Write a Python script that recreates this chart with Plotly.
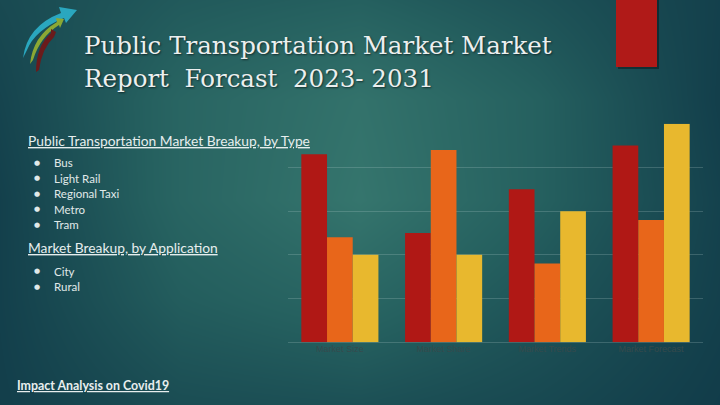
import plotly.graph_objects as go

# ---------------- data ----------------
categories = ["Market Size", "Market Share", "Market Trends", "Market Forecast"]
series_names = ["Series 1", "Series 2", "Series 3"]
series_1 = [4.3, 2.5, 3.5, 4.5]
series_2 = [2.4, 4.4, 1.8, 2.8]
series_3 = [2.0, 2.0, 3.0, 5.0]
series_colors = ["#B01815", "#E8661A", "#E8B82E"]

title_lines = ["Public Transportation Market Market", "Report  Forcast  2023- 2031"]
type_header = "Public Transportation Market Breakup, by Type"
type_items = ["Bus", "Light Rail", "Regional Taxi", "Metro", "Tram"]
app_header = "Market Breakup, by Application"
app_items = ["City", "Rural"]
footer_text = "Impact Analysis on Covid19"

# background gradient (decorative), brightness at grid points
bg_x = [0, 180, 360, 540, 720]
bg_y = [0, 100, 200, 300, 405]
bg_z = [
    [0.22, 0.42, 0.50, 0.32, 0.10],
    [0.15, 0.58, 0.80, 0.50, 0.08],
    [0.10, 0.58, 0.85, 0.50, 0.12],
    [0.10, 0.46, 0.60, 0.35, 0.10],
    [0.08, 0.26, 0.30, 0.20, 0.05],
]

W, H = 720, 405

fig = go.Figure()

# background heatmap on full-page pixel axes
fig.add_trace(go.Heatmap(
    x=bg_x, y=bg_y, z=bg_z, zsmooth="best", showscale=False, hoverinfo="skip",
    colorscale=[[0, "#0f3847"], [0.5, "#25605f"], [1, "#3c7e73"]], zmin=0, zmax=1,
    xaxis="x", yaxis="y",
))

for name, vals, col in zip(series_names, [series_1, series_2, series_3], series_colors):
    fig.add_trace(go.Bar(
        x=categories, y=vals, name=name, marker=dict(color=col, line=dict(width=0)),
        xaxis="x2", yaxis="y2", showlegend=False,
    ))

grid_col = "rgba(190,215,215,0.22)"
fig.update_layout(
    width=W, height=H,
    margin=dict(l=0, r=0, t=0, b=0),
    paper_bgcolor="#1d5058",
    plot_bgcolor="rgba(0,0,0,0)",
    barmode="group", bargap=0.257, bargroupgap=0,
    xaxis=dict(domain=[0, 1], range=[0, W], visible=False, fixedrange=True),
    yaxis=dict(domain=[0, 1], range=[H, 0], visible=False, fixedrange=True),
    xaxis2=dict(domain=[288 / W, 703 / W], anchor="y2", showgrid=False,
                tickfont=dict(family="Liberation Sans", size=9, color="#364a4c"),
                ticks="", showline=False),
    yaxis2=dict(domain=[1 - 342.3 / H, 1 - 123.7 / H], anchor="x2", range=[0, 5],
                dtick=1, showticklabels=False, showgrid=True, gridcolor=grid_col,
                gridwidth=1, zeroline=True, zerolinecolor=grid_col, zerolinewidth=1),
    showlegend=False,
)

shapes = []
# decorative red block top right (with shadow)
shapes.append(dict(type="rect", xref="x", yref="y", x0=618, x1=659, y0=-2, y1=69,
                   fillcolor="rgba(0,0,0,0.35)", line=dict(width=0)))
shapes.append(dict(type="rect", xref="x", yref="y", x0=616, x1=657, y0=-2, y1=67,
                   fillcolor="#B01A18", line=dict(width=0)))
# logo swooshes
shapes.append(dict(type="path", xref="x", yref="y",
                   path="M 23,58 Q 27,26 61,13 L 59,7 L 77,10 L 66,23 L 64,18 Q 35,30 27,50 Z",
                   fillcolor="#2AA7BF", line=dict(width=0)))
shapes.append(dict(type="path", xref="x", yref="y",
                   path="M 30,64 Q 33,36 57,22 L 56,18 L 64,19 L 60,28 L 59,25 Q 40,37 33,60 Z",
                   fillcolor="#8BA834", line=dict(width=0)))
shapes.append(dict(type="path", xref="x", yref="y",
                   path="M 36,72 Q 36,46 51,33 L 51,29 L 56,32 L 54,37 Q 42,48 39,70 Z",
                   fillcolor="#6A1B1B", line=dict(width=0)))
fig.update_layout(shapes=shapes)

ann = []
title_font = dict(family="DejaVu Serif", size=24.5, color="#EBEFEF",
                  shadow="1px 1px 2px rgba(0,0,0,0.55)")
for i, line in enumerate(title_lines):
    ann.append(dict(x=82, y=45 + 33 * i, xref="x", yref="y", text=line, showarrow=False,
                    xanchor="left", yanchor="middle", font=title_font))

hdr_font = dict(family="Lato", size=13.8, color="#E6EEEE")
item_font = dict(family="Lato", size=11.5, color="#E0E9E9")
bullet_font = dict(family="DejaVu Sans", size=7, color="#E0E9E9")

ann.append(dict(x=26, y=140, xref="x", yref="y", text="<u>" + type_header + "</u>",
                showarrow=False, xanchor="left", yanchor="middle", font=hdr_font))
for i, it in enumerate(type_items):
    yy = 162.7 + 15.5 * i
    ann.append(dict(x=37, y=yy, xref="x", yref="y", text="●", showarrow=False,
                    xanchor="center", yanchor="middle", font=bullet_font))
    ann.append(dict(x=52, y=yy, xref="x", yref="y", text=it, showarrow=False,
                    xanchor="left", yanchor="middle", font=item_font))
ann.append(dict(x=26, y=247.5, xref="x", yref="y", text="<u>" + app_header + "</u>",
                showarrow=False, xanchor="left", yanchor="middle", font=hdr_font))
for i, it in enumerate(app_items):
    yy = 271 + 15.5 * i
    ann.append(dict(x=37, y=yy, xref="x", yref="y", text="●", showarrow=False,
                    xanchor="center", yanchor="middle", font=bullet_font))
    ann.append(dict(x=52, y=yy, xref="x", yref="y", text=it, showarrow=False,
                    xanchor="left", yanchor="middle", font=item_font))
ann.append(dict(x=15, y=385, xref="x", yref="y", text="<b><u>" + footer_text + "</u></b>",
                showarrow=False, xanchor="left", yanchor="middle",
                font=dict(family="Lato", size=12.4, color="#E8EEEE")))
fig.update_layout(annotations=ann)

fig.write_html(
    "out.html",
    config={"displayModeBar": False, "staticPlot": True},
    post_script="document.body.style.margin='0';document.body.style.overflow='hidden';",
)
